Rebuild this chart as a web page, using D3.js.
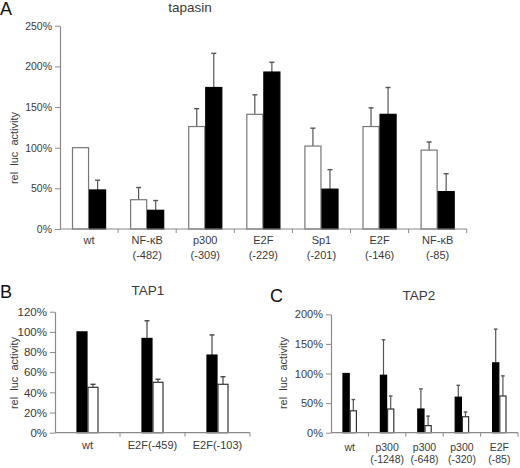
<!DOCTYPE html>
<html>
<head>
<meta charset="utf-8">
<script src="https://cdn.jsdelivr.net/npm/d3@7"></script>
<style>
  html, body { margin: 0; padding: 0; background: #fff; }
  svg { display: block; font-family: "Liberation Sans", Arial, sans-serif; }
</style>
</head>
<body>
<svg id="chart" width="520" height="468"></svg>
<script>
// ---------- Panel A: tapasin ----------
const aCategories = ["wt", "NF-κB\n(-482)", "p300\n(-309)", "E2F\n(-229)", "Sp1\n(-201)", "E2F\n(-146)", "NF-κB\n(-85)"];
const aWhite    = [100, 36, 126, 141, 102, 126, 97];
const aWhiteErr = [0, 15, 22, 24, 22, 23, 10];
const aBlack    = [48, 23, 174, 193, 49, 141, 46];
const aBlackErr = [12, 12, 42, 12, 24, 33, 22];
const aTicks    = [0, 50, 100, 150, 200, 250];

// ---------- Panel B: TAP1 ----------
const bCategories = ["wt", "E2F(-459)", "E2F(-103)"];
const bBlack    = [100, 93.5, 77];
const bBlackErr = [0, 17.5, 20];
const bWhite    = [45, 50, 48];
const bWhiteErr = [3, 3, 7.5];
const bTicks    = [0, 20, 40, 60, 80, 100, 120];

// ---------- Panel C: TAP2 ----------
const cCategories = ["wt", "p300\n(-1248)", "p300\n(-648)", "p300\n(-320)", "E2F\n(-85)"];
const cBlack    = [100, 97, 40, 60, 118];
const cBlackErr = [0, 60, 34, 20, 57];
const cWhite    = [37, 40, 12, 27, 62];
const cWhiteErr = [19, 22, 16, 8, 34];
const cTicks    = [0, 50, 100, 150, 200];

const svg = d3.select("#chart");
const AXIS = "#8a8a8a", TEXT = "#3a3a3a";

function panel(o) {
  const g = svg.append("g");
  const x = d3.scaleBand().domain(o.categories).range([o.x0, o.x1]).padding(0);
  const inner = d3.scaleBand().domain(o.series.map(s => s.name))
    .range([o.pad, x.bandwidth() - o.pad]).padding(0);
  const y = d3.scaleLinear().domain([0, o.ymax]).range([o.y0, o.y1]);

  o.series.forEach(s => {
    const data = o.categories.map((c, i) => ({ c, v: s.values[i], e: s.errs[i] }));
    const bg = g.append("g");
    const cx = d => x(d.c) + inner(s.name) + inner.bandwidth() / 2;
    bg.selectAll("line.err").data(data.filter(d => d.e > 0)).join("line")
      .attr("x1", cx).attr("x2", cx)
      .attr("y1", d => y(d.v)).attr("y2", d => y(d.v + d.e))
      .attr("stroke", o.errColor).attr("stroke-width", 1.2);
    bg.selectAll("line.cap").data(data.filter(d => d.e > 0)).join("line")
      .attr("x1", d => cx(d) - o.cap).attr("x2", d => cx(d) + o.cap)
      .attr("y1", d => y(d.v + d.e)).attr("y2", d => y(d.v + d.e))
      .attr("stroke", o.errColor).attr("stroke-width", 1.4);
    bg.selectAll("rect").data(data).join("rect")
      .attr("x", d => x(d.c) + inner(s.name) + 0.5)
      .attr("width", inner.bandwidth() - 1)
      .attr("y", d => y(d.v))
      .attr("height", d => y(0) - y(d.v))
      .attr("fill", s.fill)
      .attr("stroke", s.stroke).attr("stroke-width", 1.2);
  });

  const ya = g.append("g").attr("transform", `translate(${o.x0},0)`)
    .call(d3.axisLeft(y).tickValues(o.ticks).tickSize(5).tickSizeOuter(0).tickPadding(3).tickFormat(d => d + "%"));
  ya.select(".domain").attr("stroke", AXIS).attr("stroke-width", 1.2);
  ya.selectAll(".tick line").attr("stroke", AXIS);
  ya.selectAll(".tick text").attr("fill", TEXT).attr("font-size", o.tickFont)
    .attr("font-family", "\"Liberation Sans\", Arial, sans-serif");

  g.append("line").attr("x1", o.x0).attr("x2", o.x1).attr("y1", o.y0).attr("y2", o.y0)
    .attr("stroke", AXIS).attr("stroke-width", 1.2);
  g.selectAll("line.xt").data(o.categories.slice(1).concat(["__end"])).join("line")
    .attr("x1", d => d === "__end" ? o.x1 : x(d)).attr("x2", d => d === "__end" ? o.x1 : x(d))
    .attr("y1", o.y0).attr("y2", o.y0 + 4)
    .attr("stroke", AXIS);

  o.categories.forEach(c => {
    const t = g.append("text").attr("text-anchor", "middle")
      .attr("fill", TEXT).attr("font-size", o.labelFont)
      .attr("x", x(c) + x.bandwidth() / 2).attr("y", o.labelY);
    c.split("\n").forEach((line, i) => {
      t.append("tspan").attr("x", x(c) + x.bandwidth() / 2).attr("dy", i === 0 ? 0 : o.lineH).text(line);
    });
  });

  g.append("text").attr("transform", `translate(${o.ylabX},${o.ylabY}) rotate(-90)`)
    .attr("text-anchor", "middle").attr("fill", TEXT).attr("font-size", o.ylabFont)
    .attr("xml:space", "preserve").style("white-space", "pre")
    .text("rel  luc  activity");

  g.append("text").attr("x", o.titleX).attr("y", o.titleY).attr("text-anchor", "middle")
    .attr("fill", TEXT).attr("font-size", o.titleFont).text(o.title);
  g.append("text").attr("x", o.letterX).attr("y", o.letterY)
    .attr("fill", "#111").attr("font-size", 18).text(o.letter);
}

panel({
  categories: aCategories,
  series: [
    { name: "white", values: aWhite, errs: aWhiteErr, fill: "#fff", stroke: "#777" },
    { name: "black", values: aBlack, errs: aBlackErr, fill: "#000", stroke: "#000" }
  ],
  ymax: 250, ticks: aTicks, x0: 60, x1: 466.7, y0: 229, y1: 25.7, pad: 12,
  errColor: "#555", cap: 2.5, tickFont: 10.5, labelFont: 11, labelY: 244, lineH: 15,
  ylabX: 18, ylabY: 148, ylabFont: 11, title: "tapasin", titleX: 190, titleY: 12, titleFont: 13.5,
  letter: "A", letterX: 0, letterY: 15
});

panel({
  categories: bCategories,
  series: [
    { name: "black", values: bBlack, errs: bBlackErr, fill: "#000", stroke: "#000" },
    { name: "white", values: bWhite, errs: bWhiteErr, fill: "#fff", stroke: "#333" }
  ],
  ymax: 120, ticks: bTicks, x0: 55, x1: 250, y0: 432.7, y1: 311.7, pad: 21.5,
  errColor: "#444", cap: 2.5, tickFont: 11.5, labelFont: 11, labelY: 449, lineH: 14,
  ylabX: 18, ylabY: 373, ylabFont: 11, title: "TAP1", titleX: 148, titleY: 295, titleFont: 13.5,
  letter: "B", letterX: 0, letterY: 298
});

panel({
  categories: cCategories,
  series: [
    { name: "black", values: cBlack, errs: cBlackErr, fill: "#000", stroke: "#000" },
    { name: "white", values: cWhite, errs: cWhiteErr, fill: "#fff", stroke: "#333" }
  ],
  ymax: 200, ticks: cTicks, x0: 331, x1: 518, y0: 432.7, y1: 314.3, pad: 11.5,
  errColor: "#555", cap: 1.8, tickFont: 11, labelFont: 10.5, labelY: 451, lineH: 12,
  ylabX: 287, ylabY: 373, ylabFont: 11, title: "TAP2", titleX: 419, titleY: 300, titleFont: 13.5,
  letter: "C", letterX: 270, letterY: 302
});
</script>
</body>
</html>
